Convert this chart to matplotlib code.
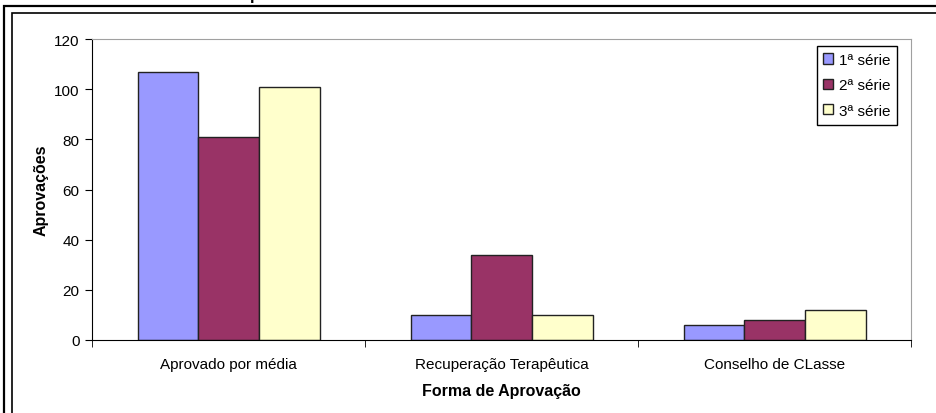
import numpy as np
import matplotlib.pyplot as plt
from matplotlib.patches import Rectangle

plt.rcParams['font.family'] = ['Liberation Sans', 'DejaVu Sans']

# Data
categories = ["Aprovado por média", "Recuperação Terapêutica", "Conselho de CLasse"]
series_names = ["1ª série", "2ª série", "3ª série"]
serie1 = [107, 10, 6]
serie2 = [81, 34, 8]
serie3 = [101, 10, 12]
colors = ["#9999ff", "#993366", "#ffffcc"]

fig = plt.figure(figsize=(9.36, 4.14), dpi=100)

# outer double frame (runs off the right and bottom edges)
W, H = 936, 414
fig.patches.append(Rectangle((4 / W, -0.1), 1.2, (H - 7) / H + 0.1, transform=fig.transFigure,
                             fill=False, edgecolor="black", linewidth=1.6))
fig.patches.append(Rectangle((12 / W, -0.1), 1.2, (H - 14) / H + 0.1, transform=fig.transFigure,
                             fill=False, edgecolor="black", linewidth=1.2))

# title mostly cut off at the top, only the descender shows
fig.text(255 / W, 1.0, "p", fontsize=12, fontweight="bold", ha="center", va="baseline")

ax = fig.add_axes([92 / W, (H - 341) / H, (911 - 92) / W, (341 - 40) / H])

x = np.arange(len(categories))
w = 1 / 4.5
for i, (vals, name) in enumerate(zip([serie1, serie2, serie3], series_names)):
    ax.bar(x + (i - 1) * w, vals, w, color=colors[i], edgecolor="#222222",
           linewidth=1.0, label=name)

ax.set_xlim(-0.5, len(categories) - 0.5)
ax.set_ylim(0, 120)
ax.set_yticks(range(0, 121, 20))
ax.set_xticks(x)
ax.set_xticklabels(categories, fontsize=11)
ax.set_xticks(np.arange(-0.5, len(categories), 1), minor=True)
ax.tick_params(axis="x", which="major", length=0, pad=12)
ax.tick_params(axis="x", which="minor", length=5, direction="out", color="black")
ax.tick_params(axis="y", length=5, direction="out", labelsize=11, pad=4)

ax.spines["left"].set_color("black")
ax.spines["bottom"].set_color("black")
ax.spines["top"].set_color("#a0a0a0")
ax.spines["right"].set_color("#a0a0a0")

ax.set_ylabel("Aprovações", fontsize=11.5, fontweight="bold", labelpad=4)
ax.set_xlabel("Forma de Aprovação", fontsize=11.5, fontweight="bold", labelpad=9)

leg = ax.legend(loc="upper right", bbox_to_anchor=(0.983, 0.977), fontsize=11,
                fancybox=False, framealpha=1, edgecolor="black",
                handlelength=0.65, handleheight=0.65, handletextpad=0.35,
                borderpad=0.45, labelspacing=0.75, borderaxespad=0)
leg.get_frame().set_linewidth(1.0)

fig.savefig("out.png", dpi=100)
